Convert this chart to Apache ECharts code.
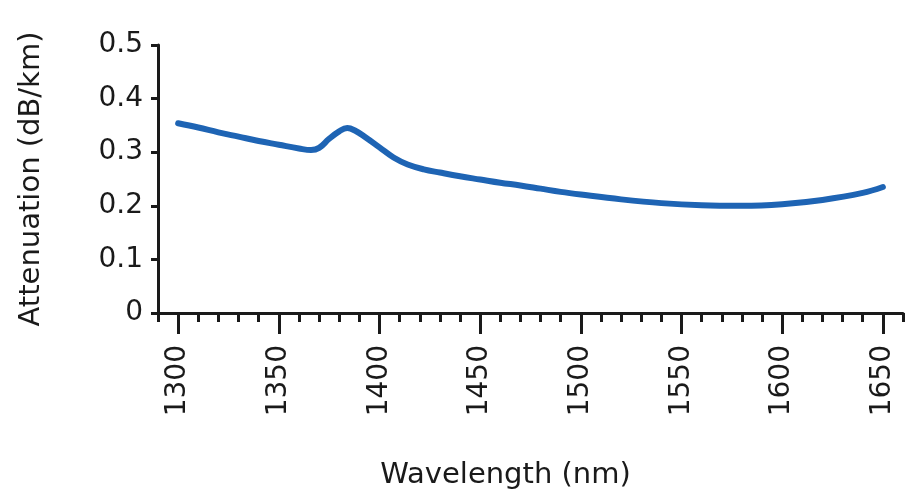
<!DOCTYPE html>
<html>
<head>
<meta charset="utf-8">
<script src="https://cdn.jsdelivr.net/npm/echarts@6/dist/echarts.min.js"></script>
<style>
  html, body { margin: 0; padding: 0; background: #fff; }
  #chart { width: 905px; height: 504px; }
</style>
</head>
<body>
<div id="chart"></div>
<script>
// 数据
const wavelengths = [1300, 1310, 1320, 1330, 1340, 1350, 1360, 1366, 1370, 1375, 1380, 1384, 1388, 1393, 1400, 1407, 1414, 1422, 1430, 1440, 1450, 1460, 1470, 1480, 1490, 1500, 1520, 1540, 1560, 1580, 1600, 1620, 1640, 1650];
const attenuation = [0.354, 0.346, 0.337, 0.329, 0.321, 0.314, 0.307, 0.304, 0.308, 0.325, 0.339, 0.345, 0.340, 0.328, 0.309, 0.290, 0.277, 0.268, 0.262, 0.255, 0.249, 0.243, 0.238, 0.232, 0.226, 0.221, 0.212, 0.205, 0.201, 0.200, 0.203, 0.211, 0.224, 0.235];
const xTicks = [1300, 1350, 1400, 1450, 1500, 1550, 1600, 1650];
const yTicks = [0, 0.1, 0.2, 0.3, 0.4, 0.5];

const font = "DejaVu Sans";
const ink = "#1a1a1a";

const chart = echarts.init(document.getElementById("chart"));
chart.setOption({
  animation: false,
  grid: {
    left: 158,
    right: 2,
    top: 45,
    bottom: 191,
  },
  xAxis: [
    {
      // 小刻度 + 轴线
      type: "value",
      min: 1290,
      max: 1660,
      interval: 10,
      position: "bottom",
      axisLine: { show: true, lineStyle: { color: ink, width: 3 } },
      axisTick: { show: true, length: 9, lineStyle: { color: ink, width: 3 } },
      axisLabel: { show: false },
      splitLine: { show: false },
      name: "Wavelength (nm)",
      nameLocation: "middle",
      nameGap: 148,
      nameTextStyle: {
        fontFamily: font,
        fontSize: 29,
        color: ink,
        padding: [0, 50, 0, 0],
      },
    },
    {
      // 大刻度 + 标签
      type: "value",
      min: 1290,
      max: 1660,
      position: "bottom",
      axisLine: { show: false },
      axisTick: {
        show: true,
        customValues: xTicks,
        length: 21,
        lineStyle: { color: ink, width: 3 },
      },
      axisLabel: {
        customValues: xTicks,
        rotate: 90,
        margin: 32,
        fontFamily: font,
        fontSize: 28,
        color: ink,
        formatter: (v) => String(v),
      },
      splitLine: { show: false },
    },
  ],
  yAxis: {
    type: "value",
    min: 0,
    max: 0.5,
    interval: 0.1,
    axisLine: { show: true, lineStyle: { color: ink, width: 3 } },
    axisTick: { show: true, length: 7, lineStyle: { color: ink, width: 3 } },
    axisLabel: {
      margin: 15,
      fontFamily: font,
      fontSize: 28,
      color: ink,
      formatter: (v) => String(yTicks.find((t) => Math.abs(t - v) < 1e-9) ?? v),
    },
    splitLine: { show: false },
    name: "Attenuation (dB/km)",
    nameLocation: "middle",
    nameGap: 112,
    nameTextStyle: { fontFamily: font, fontSize: 29, color: ink },
  },
  series: [
    {
      type: "line",
      xAxisIndex: 0,
      data: wavelengths.map((w, i) => [w, attenuation[i]]),
      smooth: 0.4,
      showSymbol: false,
      lineStyle: { color: "#1e64b4", width: 6, cap: "round" },
    },
  ],
});
</script>
</body>
</html>
